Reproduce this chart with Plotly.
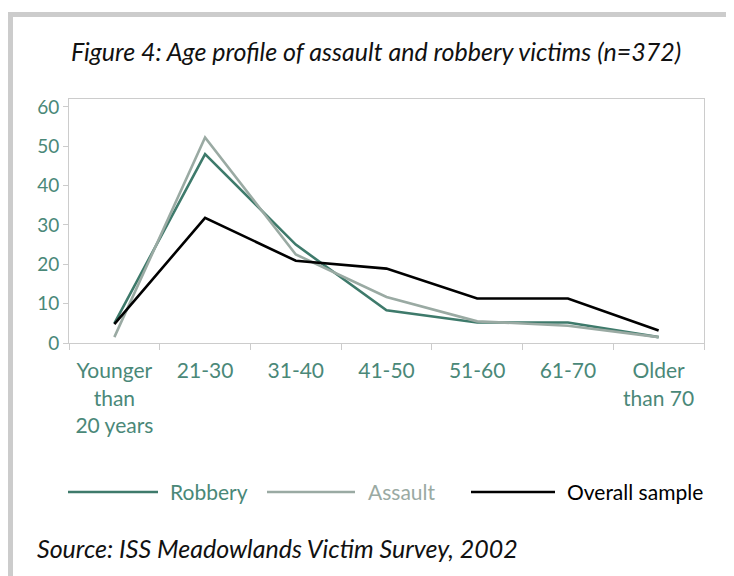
import plotly.graph_objects as go

categories = ["Younger<br>than<br>20 years", "21-30", "31-40", "41-50", "51-60", "61-70", "Older<br>than 70"]
robbery = [5, 48, 25, 8.3, 5.2, 5.2, 1.5]
assault = [1.5, 52.2, 22.5, 11.7, 5.5, 4.4, 1.5]
overall = [4.8, 31.8, 20.9, 18.9, 11.3, 11.3, 3.2]
series_names = ["Robbery", "Assault", "Overall sample"]
y_ticks = [0, 10, 20, 30, 40, 50, 60]

TEAL = "#3e7a6b"
TEAL_TXT = "#4a8878"
GREY = "#9aaaa3"
BLACK = "#000000"
FONT = "Lato"

# page body adds an 8px margin, so work in shifted pixel coordinates
OFF = 8
W, H = 734 - OFF, 576 - OFF
L, R, T, B = 69 - OFF, 704 - OFF, 99 - OFF, 343 - OFF

def px(x):
    return (x - OFF - L) / (R - L)

def py(y):
    return (B - (y - OFF)) / (B - T)

fig = go.Figure()
for name, vals, col in zip(series_names, [robbery, assault, overall], [TEAL, GREY, BLACK]):
    fig.add_trace(go.Scatter(x=categories, y=vals, mode="lines", name=name,
                             line=dict(color=col, width=2.6), showlegend=False))

shapes = [
    dict(type="rect", xref="paper", yref="paper", x0=px(8), x1=px(745), y0=py(12), y1=py(17),
         fillcolor="#cccccc", line=dict(width=0), layer="below"),
    dict(type="rect", xref="paper", yref="paper", x0=px(8), x1=px(13), y0=py(12), y1=py(590),
         fillcolor="#cccccc", line=dict(width=0), layer="below"),
]
annotations = []
legend_items = [(68, 158, 168, TEAL, TEAL_TXT), (267, 355, 366, GREY, GREY), (471, 555, 565, BLACK, BLACK)]
for name, (lx0, lx1, tx, col, tcol) in zip(series_names, legend_items):
    shapes.append(dict(type="line", xref="paper", yref="paper", x0=px(lx0), x1=px(lx1),
                       y0=py(492), y1=py(492), line=dict(color=col, width=2.6)))
    annotations.append(dict(text=name, xref="paper", yref="paper", x=px(tx), y=py(491),
                            xanchor="left", yanchor="middle", showarrow=False,
                            font=dict(family=FONT, size=21, color=tcol)))
annotations.append(dict(text="<i>Source: ISS Meadowlands Victim Survey, 2002</i>", xref="paper", yref="paper",
                        x=px(35), y=py(548), xanchor="left", yanchor="middle", showarrow=False,
                        font=dict(family=FONT, size=25, color="#111111")))

fig.update_layout(
    width=W, height=H,
    margin=dict(l=L, r=W - R, t=T, b=H - B),
    paper_bgcolor="white", plot_bgcolor="white",
    title=dict(text="<i>Figure 4: Age profile of assault and robbery victims (n=372)</i>",
               xref="container", yref="container", x=(376 - OFF) / W, y=1 - (52 - OFF) / H,
               xanchor="center", yanchor="middle",
               font=dict(family=FONT, size=25, color="#111111")),
    xaxis=dict(type="category", range=[-0.5, 6.5], tickson="boundaries", ticks="outside",
               ticklen=6, tickcolor="#cccccc", showline=True, linecolor="#cccccc", mirror=True,
               showgrid=False, zeroline=False, ticklabelstandoff=9,
               tickfont=dict(family=FONT, size=21, color=TEAL_TXT)),
    yaxis=dict(range=[0, 62], tickvals=y_ticks, ticks="outside", ticklen=5, tickcolor="#cccccc",
               showline=True, linecolor="#cccccc", mirror=True, showgrid=False, zeroline=False,
               tickfont=dict(family=FONT, size=19, color=TEAL_TXT)),
    shapes=shapes, annotations=annotations,
)
fig.write_html("out.html")
